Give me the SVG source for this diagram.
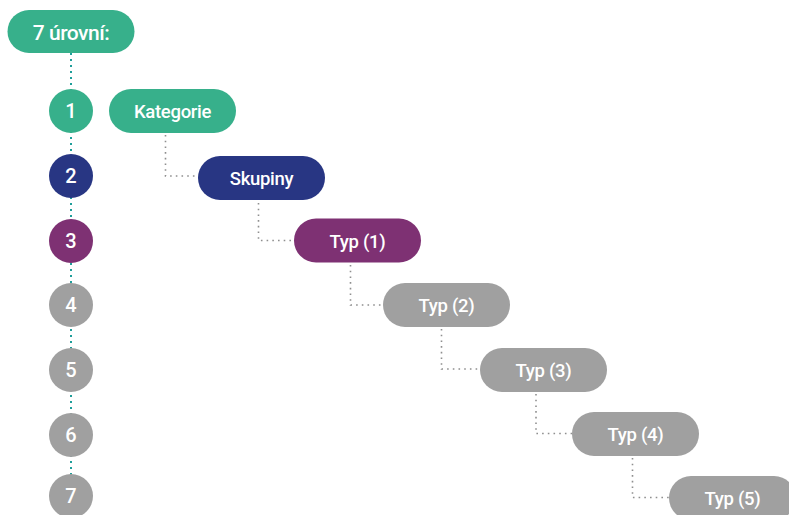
<svg xmlns="http://www.w3.org/2000/svg" width="789" height="515" viewBox="0 0 789 515">
<style>
.t{font-family:Roboto,"Liberation Sans",sans-serif;font-weight:500;fill:#fff;text-anchor:middle}
.s{font-size:18.5px;letter-spacing:-0.3px}
.d{font-size:20px}
.g{fill:#37b08b}.n{fill:#283683}.p{fill:#7e3173}.r{fill:#a0a0a0}
.teal{stroke:#1f9e9a;stroke-width:2;stroke-dasharray:2 4;fill:none}
.gc{stroke:#8f8f8f;stroke-width:1.6;stroke-dasharray:1.6 4.1;fill:none}
</style>
<rect width="789" height="515" fill="#fff"/>
<g id="connectors">
<path class="teal" d="M71 53V496"/>
<path class="gc" d="M165.5 135V176H198"/>
<path class="gc" d="M258.5 203V240.5H294"/>
<path class="gc" d="M350.5 265V305H383"/>
<path class="gc" d="M441.5 329V369H480"/>
<path class="gc" d="M536 394V433.5H572"/>
<path class="gc" d="M632.5 458V497.5H669"/>
</g>
<g id="title"><rect class="g" x="7.5" y="10" width="127" height="43" rx="21.5"/><text class="t" x="71" y="39.5" font-size="21" letter-spacing="-0.5">7 úrovní:</text></g>
<g id="c1"><circle class="g" cx="71" cy="111" r="22"/><text class="t d" x="71" y="118">1</text></g>
<g id="c2"><circle class="n" cx="71" cy="176" r="22"/><text class="t d" x="71" y="183">2</text></g>
<g id="c3"><circle class="p" cx="71" cy="241" r="22"/><text class="t d" x="71" y="248">3</text></g>
<g id="c4"><circle class="r" cx="71" cy="305" r="22"/><text class="t d" x="71" y="312">4</text></g>
<g id="c5"><circle class="r" cx="71" cy="370" r="22"/><text class="t d" x="71" y="377">5</text></g>
<g id="c6"><circle class="r" cx="71" cy="435" r="22"/><text class="t d" x="71" y="442">6</text></g>
<g id="c7"><circle class="r" cx="71" cy="496" r="22"/><text class="t d" x="71" y="503">7</text></g>
<g id="kategorie"><rect class="g" x="109" y="89" width="127" height="44" rx="22"/><text class="t s" x="172.5" y="118">Kategorie</text></g>
<g id="skupiny"><rect class="n" x="198" y="156" width="127" height="44" rx="22"/><text class="t s" x="261.5" y="185">Skupiny</text></g>
<g id="typ1"><rect class="p" x="294" y="218.5" width="127" height="44" rx="22"/><text class="t s" x="357.5" y="247.5">Typ (1)</text></g>
<g id="typ2"><rect class="r" x="383" y="283" width="127" height="44" rx="22"/><text class="t s" x="446.5" y="312">Typ (2)</text></g>
<g id="typ3"><rect class="r" x="480" y="348" width="127" height="44" rx="22"/><text class="t s" x="543.5" y="377">Typ (3)</text></g>
<g id="typ4"><rect class="r" x="572" y="412" width="127" height="44" rx="22"/><text class="t s" x="635.5" y="441">Typ (4)</text></g>
<g id="typ5"><rect class="r" x="669" y="476" width="127" height="44" rx="22"/><text class="t s" x="732.5" y="505">Typ (5)</text></g>
</svg>
